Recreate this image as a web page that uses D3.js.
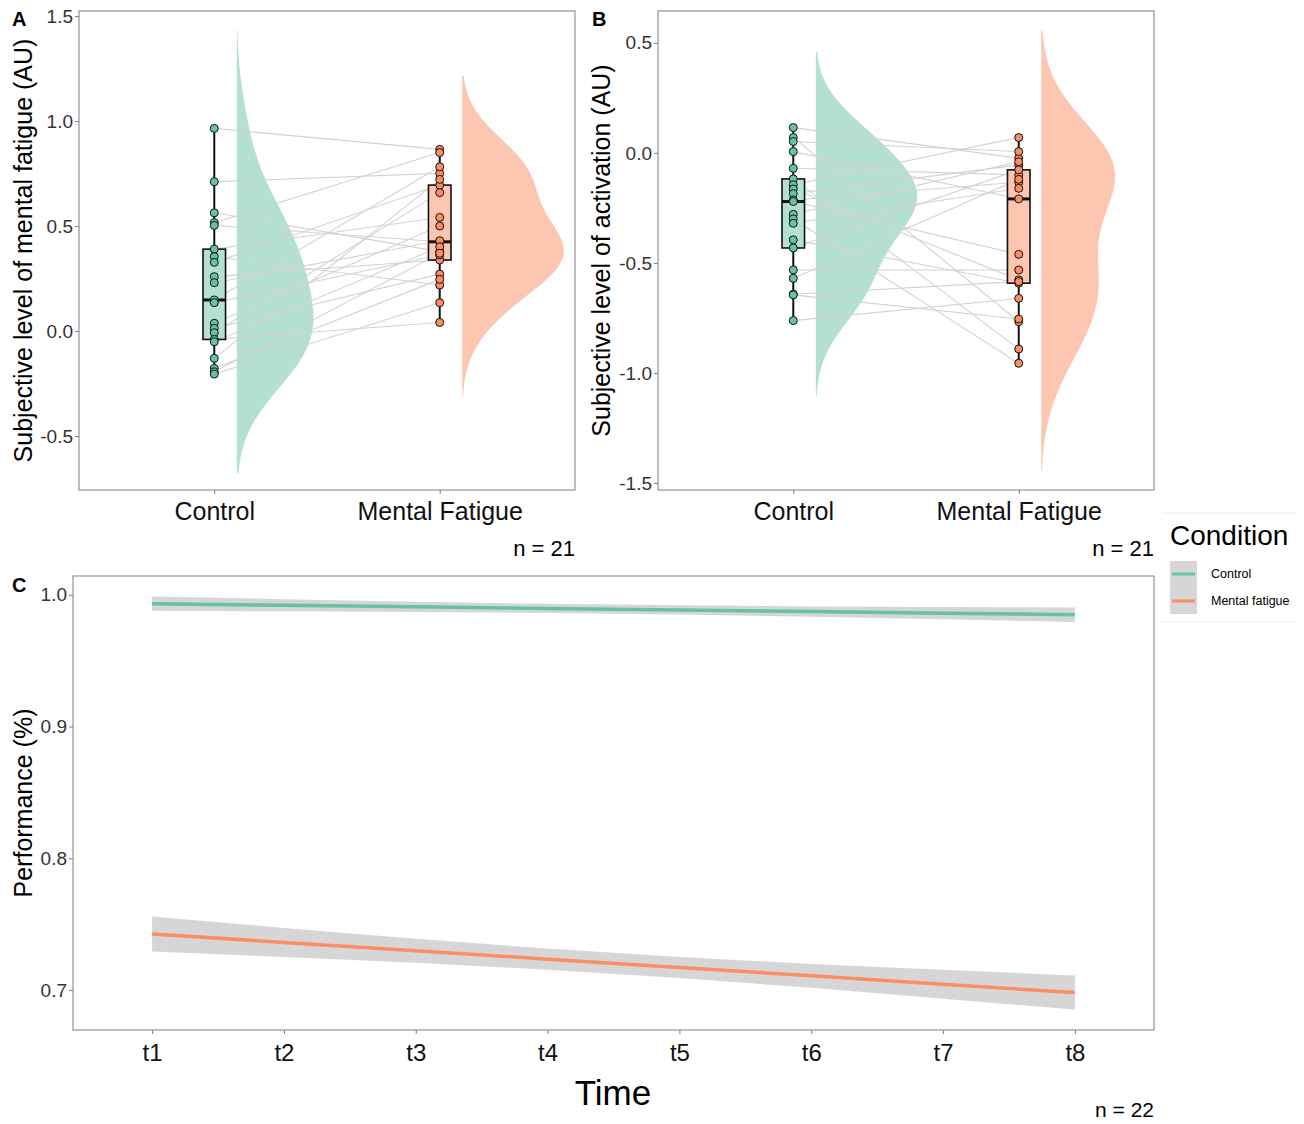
<!DOCTYPE html>
<html>
<head>
<meta charset="utf-8">
<script src="https://cdn.jsdelivr.net/npm/d3@7"></script>
<style>
  body { margin: 0; background: #fff; }
  svg { font-family: "Liberation Sans", Arial, sans-serif; }
</style>
</head>
<body>
<div id="chart"></div>
<script>
// ---- data ----
const conditions = ["Control", "Mental Fatigue"];

// panel A : subjective mental fatigue (participant i = same index in both arrays)
const fatigueControl = [0.965, 0.711, 0.563, 0.516, 0.503, 0.390, 0.354, 0.327, 0.259, 0.230, 0.148,
                        0.135, 0.037, 0.013, -0.008, -0.040, -0.051, -0.130, -0.178, -0.194, -0.205];
const fatigueMF      = [0.865, 0.751, 0.378, 0.850, 0.425, 0.541, 0.219, 0.695, 0.338, 0.430, 0.782,
                        0.362, 0.500, 0.271, 0.659, 0.041, 0.401, 0.722, 0.246, 0.370, 0.135];

// panel B : subjective activation
const activationControl = [0.115, 0.070, 0.052, 0.006, -0.070, -0.118, -0.145, -0.164, -0.185, -0.214, -0.221,
                           -0.279, -0.300, -0.320, -0.395, -0.432, -0.532, -0.570, -0.642, -0.645, -0.762];
const activationMF      = [-0.024, -0.767, 0.006, -0.209, -0.100, -0.891, 0.070, -0.577, -0.055, -0.133, -0.461,
                           -0.040, -0.956, -0.161, -0.592, -0.077, -0.532, -0.120, -0.585, -0.755, -0.661];

// panel C : performance, linear fit and its confidence half-width per time point
const timeLabels = ["t1", "t2", "t3", "t4", "t5", "t6", "t7", "t8"];
const perfControlFit = [0.9933, 0.9921, 0.9909, 0.9897, 0.9885, 0.9873, 0.9861, 0.9849];
const perfControlCI  = [0.0054, 0.0046, 0.0039, 0.0035, 0.0035, 0.0039, 0.0046, 0.0055];
const perfMFFit      = [0.7425, 0.7361, 0.7298, 0.7234, 0.7171, 0.7107, 0.7043, 0.6980];
const perfMFCI       = [0.0133, 0.0110, 0.0091, 0.0080, 0.0080, 0.0091, 0.0110, 0.0129];

const fatigueTicks = [-0.5, 0.0, 0.5, 1.0, 1.5];
const activationTicks = [-1.5, -1.0, -0.5, 0.0, 0.5];
const perfTicks = [0.7, 0.8, 0.9, 1.0];

const teal = "#66c2a5", orange = "#fc8d62";
const tealLight = "#b3e0d2", orangeLight = "#fdc6b0";

const svg = d3.select("#chart").append("svg")
    .attr("width", 1304).attr("height", 1124);

function fmt(d) { return d.toFixed(1); }

// gaussian kde, bandwidth from R's bw.nrd0 (times adjust), tails end 3 nrd0 bandwidths out
function kde(values, adjust) {
    var n = values.length;
    var s = values.slice().sort(d3.ascending);
    var iqr = d3.quantile(s, 0.75) - d3.quantile(s, 0.25);
    var bw0 = 0.9 * Math.min(d3.deviation(values), iqr / 1.34) * Math.pow(n, -0.2);
    var bw = bw0 * adjust;
    var lo = d3.min(values) - 3 * bw0, hi = d3.max(values) + 3 * bw0;
    return d3.range(512).map(function (i) {
        var y = lo + (hi - lo) * i / 511;
        var dens = d3.mean(values, function (v) {
            var u = (y - v) / bw;
            return Math.exp(-0.5 * u * u) / Math.sqrt(2 * Math.PI);
        }) / bw;
        return [y, dens];
    });
}

function styleAxis(g, color, size) {
    g.select(".domain").remove();
    g.selectAll(".tick line").attr("stroke", "#7f7f7f");
    g.selectAll(".tick text").attr("fill", color).style("font-size", size + "px");
}

function raincloud(opt) {
    var x = d3.scaleLinear().domain([0.4, 2.6]).range([opt.left, opt.right]);
    var y = d3.scaleLinear().domain(opt.yDomain).range([opt.bottom, opt.top]);
    var g = svg.append("g");

    var groups = [
        {pos: 1, values: opt.control, fill: teal, light: tealLight},
        {pos: 2, values: opt.mf, fill: orange, light: orangeLight}
    ];
    groups.forEach(function (d) { d.dens = kde(d.values, 1.3); });
    var gmax = d3.max(groups, function (d) { return d3.max(d.dens, function (p) { return p[1]; }); });

    // half violins
    groups.forEach(function (d) {
        var area = d3.area()
            .y(function (p) { return y(p[0]); })
            .x0(x(d.pos + 0.1))
            .x1(function (p) { return x(d.pos + 0.1 + p[1] / gmax * 0.45); });
        g.append("path").datum(d.dens).attr("d", area).attr("fill", d.light);
    });

    // paired lines
    g.selectAll("line.pair").data(opt.control).enter().append("line")
        .attr("class", "pair")
        .attr("x1", x(1)).attr("x2", x(2))
        .attr("y1", function (d) { return y(d); })
        .attr("y2", function (d, i) { return y(opt.mf[i]); })
        .attr("stroke", "#d2d2d2").attr("stroke-width", 1.1);

    // boxplots
    groups.forEach(function (d) {
        var s = d.values.slice().sort(d3.ascending);
        var q1 = d3.quantile(s, 0.25), med = d3.quantile(s, 0.5), q3 = d3.quantile(s, 0.75);
        var iqr = q3 - q1;
        var lo = d3.min(s.filter(function (v) { return v >= q1 - 1.5 * iqr; }));
        var hi = d3.max(s.filter(function (v) { return v <= q3 + 1.5 * iqr; }));
        var cx = x(d.pos), hw = x(d.pos + 0.05) - x(d.pos);
        g.append("line").attr("x1", cx).attr("x2", cx).attr("y1", y(q3)).attr("y2", y(hi))
            .attr("stroke", "#111").attr("stroke-width", 2);
        g.append("line").attr("x1", cx).attr("x2", cx).attr("y1", y(q1)).attr("y2", y(lo))
            .attr("stroke", "#111").attr("stroke-width", 2);
        g.append("rect").attr("x", cx - hw).attr("width", 2 * hw)
            .attr("y", y(q3)).attr("height", y(q1) - y(q3))
            .attr("fill", d.light).attr("stroke", "#111").attr("stroke-width", 1.6);
        g.append("line").attr("x1", cx - hw).attr("x2", cx + hw).attr("y1", y(med)).attr("y2", y(med))
            .attr("stroke", "#111").attr("stroke-width", 3);
        g.selectAll(null).data(d.values).enter().append("circle")
            .attr("cx", cx).attr("cy", function (v) { return y(v); }).attr("r", 4)
            .attr("fill", d.fill).attr("stroke", "#111").attr("stroke-width", 1);
    });

    // frame + axes
    g.append("rect").attr("x", opt.left).attr("y", opt.top)
        .attr("width", opt.right - opt.left).attr("height", opt.bottom - opt.top)
        .attr("fill", "none").attr("stroke", "#7f7f7f").attr("stroke-width", 1);
    g.append("g").attr("transform", "translate(" + opt.left + ",0)")
        .call(d3.axisLeft(y).tickValues(opt.ticks).tickFormat(fmt).tickSize(4).tickPadding(2))
        .call(styleAxis, "#333", 19);
    g.append("g").attr("transform", "translate(0," + opt.bottom + ")")
        .call(d3.axisBottom(x).tickValues([1, 2]).tickFormat(function (d) { return conditions[d - 1]; })
            .tickSize(4).tickPadding(8))
        .call(styleAxis, "#111", 25);

    svg.append("text").attr("transform", "translate(" + opt.titleX + "," + ((opt.top + opt.bottom) / 2) + ") rotate(-90)")
        .attr("text-anchor", "middle").style("font-size", "25px").text(opt.title);
    svg.append("text").attr("x", opt.right).attr("y", 556).attr("text-anchor", "end")
        .style("font-size", "22px").text("n = 21");
    svg.append("text").attr("x", opt.labelX).attr("y", 26).style("font-size", "20px")
        .style("font-weight", "bold").text(opt.label);
}

raincloud({left: 79, right: 575, top: 11, bottom: 490, yDomain: [-0.757, 1.524],
    ticks: fatigueTicks, control: fatigueControl, mf: fatigueMF,
    title: "Subjective level of mental fatigue (AU)", titleX: 32, label: "A", labelX: 12});

raincloud({left: 658, right: 1154, top: 11, bottom: 490, yDomain: [-1.532, 0.645],
    ticks: activationTicks, control: activationControl, mf: activationMF,
    title: "Subjective level of activation (AU)", titleX: 610, label: "B", labelX: 592});

// ---- panel C ----
var pc = {left: 73, right: 1154, top: 576, bottom: 1030};
var xc = d3.scaleLinear().domain([0.4, 8.6]).range([pc.left, pc.right]);
var yc = d3.scaleLinear().domain([0.6696, 1.0143]).range([pc.bottom, pc.top]);
var gc = svg.append("g");

var series = [
    {fit: perfControlFit, ci: perfControlCI, color: teal},
    {fit: perfMFFit, ci: perfMFCI, color: orange}
];
series.forEach(function (s) {
    var pts = s.fit.map(function (v, i) { return {t: i + 1, v: v, e: s.ci[i]}; });
    gc.append("path").datum(pts)
        .attr("d", d3.area().x(function (d) { return xc(d.t); })
            .y0(function (d) { return yc(d.v - d.e); })
            .y1(function (d) { return yc(d.v + d.e); }))
        .attr("fill", "#d6d6d6");
    gc.append("path").datum(pts)
        .attr("d", d3.line().x(function (d) { return xc(d.t); }).y(function (d) { return yc(d.v); }))
        .attr("fill", "none").attr("stroke", s.color).attr("stroke-width", 3.5);
});

gc.append("rect").attr("x", pc.left).attr("y", pc.top)
    .attr("width", pc.right - pc.left).attr("height", pc.bottom - pc.top)
    .attr("fill", "none").attr("stroke", "#7f7f7f");
gc.append("g").attr("transform", "translate(" + pc.left + ",0)")
    .call(d3.axisLeft(yc).tickValues(perfTicks).tickFormat(fmt).tickSize(4).tickPadding(2))
    .call(styleAxis, "#333", 19);
gc.append("g").attr("transform", "translate(0," + pc.bottom + ")")
    .call(d3.axisBottom(xc).tickValues(d3.range(1, 9)).tickFormat(function (d) { return timeLabels[d - 1]; })
        .tickSize(4).tickPadding(10))
    .call(styleAxis, "#111", 24);

svg.append("text").attr("transform", "translate(32," + ((pc.top + pc.bottom) / 2) + ") rotate(-90)")
    .attr("text-anchor", "middle").style("font-size", "25px").text("Performance (%)");
svg.append("text").attr("x", 613).attr("y", 1105).attr("text-anchor", "middle")
    .style("font-size", "35px").text("Time");
svg.append("text").attr("x", pc.right).attr("y", 1117).attr("text-anchor", "end")
    .style("font-size", "21px").text("n = 22");
svg.append("text").attr("x", 12).attr("y", 592).style("font-size", "20px")
    .style("font-weight", "bold").text("C");

// ---- legend ----
var leg = svg.append("g");
leg.append("line").attr("x1", 1162).attr("x2", 1296).attr("y1", 513).attr("y2", 513).attr("stroke", "#ececec");
leg.append("line").attr("x1", 1162).attr("x2", 1296).attr("y1", 622).attr("y2", 622).attr("stroke", "#ececec");
leg.append("text").attr("x", 1170).attr("y", 545).style("font-size", "28px").text("Condition");
leg.append("rect").attr("x", 1170).attr("y", 561).attr("width", 27).attr("height", 53).attr("fill", "#d6d6d6");
[["Control", teal], ["Mental fatigue", orange]].forEach(function (d, i) {
    var yy = 574 + i * 27;
    leg.append("line").attr("x1", 1172).attr("x2", 1195).attr("y1", yy).attr("y2", yy)
        .attr("stroke", d[1]).attr("stroke-width", 3);
    leg.append("text").attr("x", 1211).attr("y", yy + 4).style("font-size", "12.5px").text(d[0]);
});
</script>
</body>
</html>
